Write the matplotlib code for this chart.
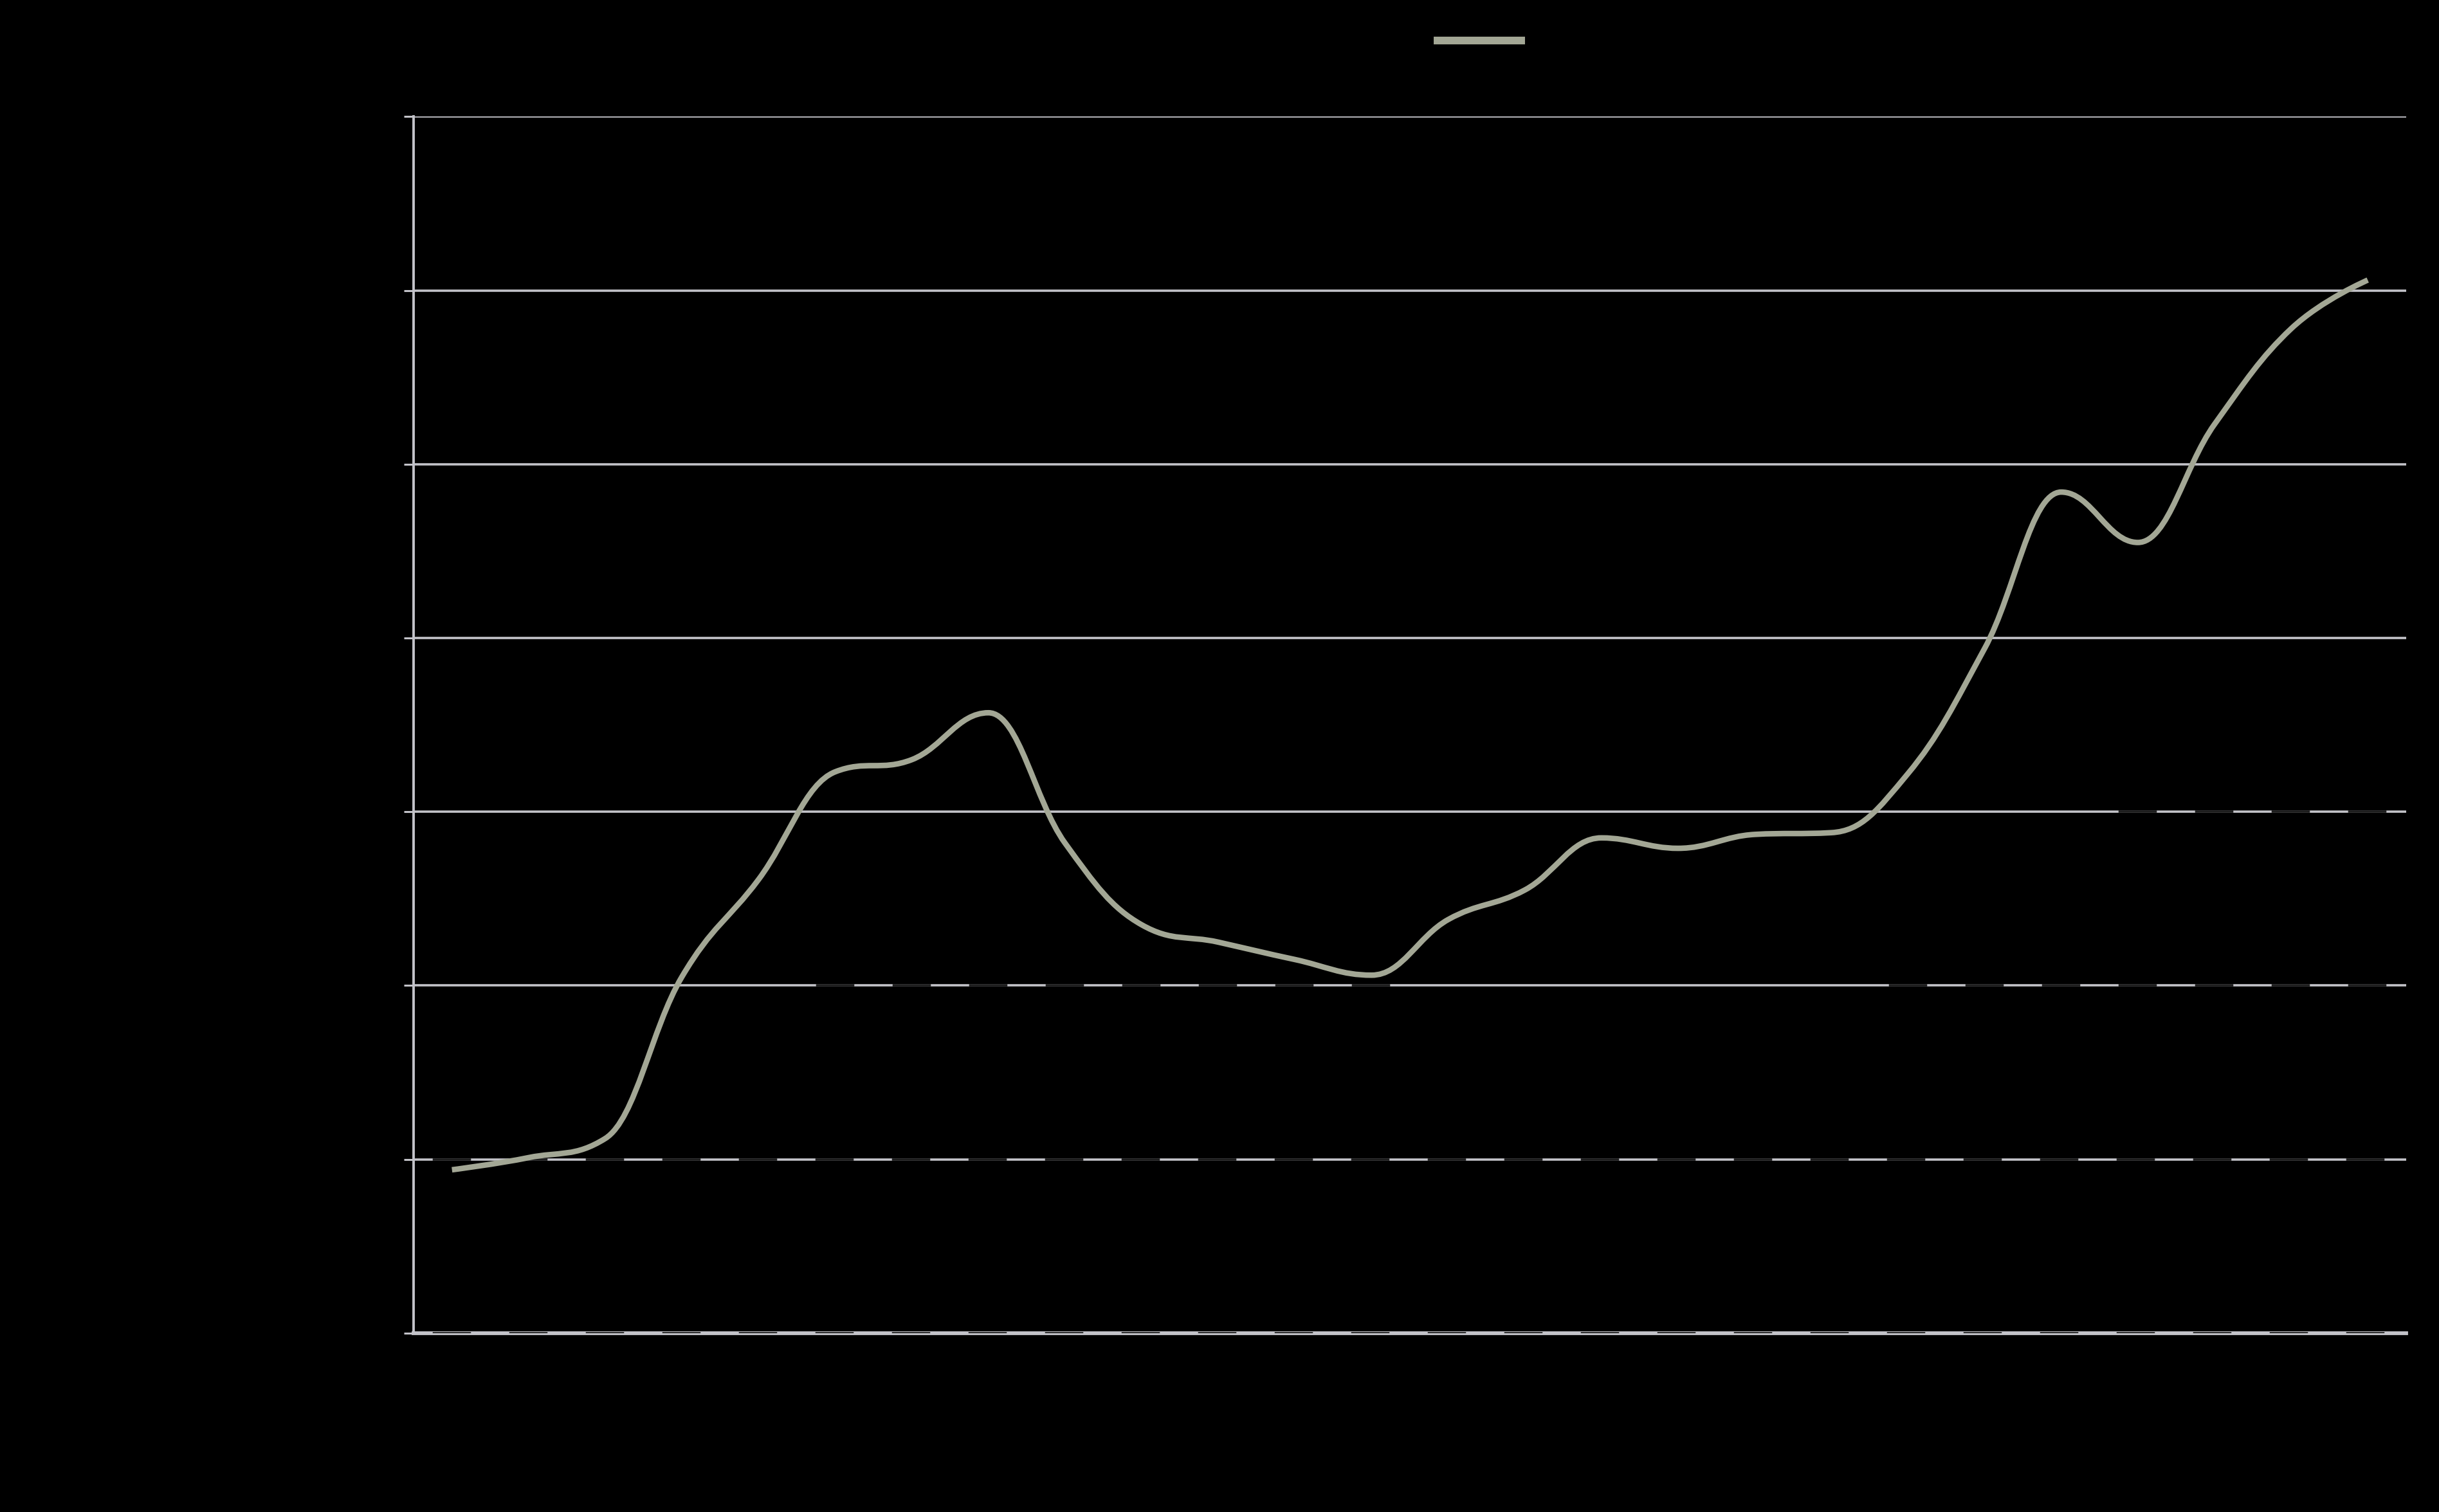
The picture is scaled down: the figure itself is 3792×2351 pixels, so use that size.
import numpy as np
import matplotlib
matplotlib.use("Agg")
import matplotlib.pyplot as plt
from matplotlib.path import Path
from matplotlib.patches import PathPatch
from matplotlib.lines import Line2D

# values (one point per category)
categories = list(range(1, 27))
values = [0.94, 1.01, 1.12, 2.05, 2.61, 3.23, 3.30, 3.57, 2.82, 2.35,
          2.25, 2.15, 2.06, 2.38, 2.55, 2.85, 2.79, 2.87, 2.88, 3.22,
          3.94, 4.84, 4.55, 5.23, 5.78, 6.06]
y_ticks = [0, 1, 2, 3, 4, 5, 6, 7]
series_name = "Series 1"

line_color = "#a3a795"
grid_color = "#c3c3c9"
gap_color = "#1b1b1b"


def spline_path(xs, ys, smoothing=1.5):
    # bezier spline in the style of a charting-library "spline" series
    n = len(xs)
    left = [(xs[i], ys[i]) for i in range(n)]
    right = [(xs[i], ys[i]) for i in range(n)]
    d = smoothing + 1
    for i in range(1, n - 1):
        x, y = xs[i], ys[i]
        lx, ly = xs[i - 1], ys[i - 1]
        nx, ny = xs[i + 1], ys[i + 1]
        lcx, lcy = (smoothing * x + lx) / d, (smoothing * y + ly) / d
        rcx, rcy = (smoothing * x + nx) / d, (smoothing * y + ny) / d
        if rcx != lcx:
            corr = (rcy - lcy) * (rcx - x) / (rcx - lcx) + y - rcy
            lcy += corr
            rcy += corr
        if lcy > ly and lcy > y:
            lcy = max(ly, y)
            rcy = 2 * y - lcy
        elif lcy < ly and lcy < y:
            lcy = min(ly, y)
            rcy = 2 * y - lcy
        if rcy > ny and rcy > y:
            rcy = max(ny, y)
            lcy = 2 * y - rcy
        elif rcy < ny and rcy < y:
            rcy = min(ny, y)
            lcy = 2 * y - rcy
        left[i] = (lcx, lcy)
        right[i] = (rcx, rcy)
    verts = [(xs[0], ys[0])]
    codes = [Path.MOVETO]
    for i in range(1, n):
        verts += [right[i - 1], left[i], (xs[i], ys[i])]
        codes += [Path.CURVE4] * 3
    return Path(verts, codes)


fig = plt.figure(figsize=(37.92, 23.51), dpi=100, facecolor="black")
ax = fig.add_axes([0.1696, 0.1183, 0.8169, 0.8045])
ax.set_facecolor("black")

n = len(categories)
xs = np.arange(n)
ax.set_xlim(-0.5, n - 0.5)
ax.set_ylim(y_ticks[0], y_ticks[-1])

# gridlines
grid_lw = 2.6
for t in y_ticks:
    ax.axhline(t, color=grid_color, lw=grid_lw, zorder=1)
ax.axhline(0, color=grid_color, lw=4.2, zorder=1, clip_on=False)

# darker dash pieces seen on some of the lower gridlines
dash_len = 59.5 / (grid_lw * 100 / 72)
dash_style = (dash_len * 1.5, (dash_len, dash_len))
dash_spans = [(0, 0, n), (1, 0, n), (2, 5, 13), (2, 19, n), (3, 22, n)]
for level, k0, k1 in dash_spans:
    ax.axhline(level, xmin=k0 / n, xmax=k1 / n, color=gap_color, lw=grid_lw,
               linestyle=dash_style, zorder=1.5)

patch = PathPatch(spline_path(xs, values), facecolor="none",
                  edgecolor=line_color, lw=6.2, capstyle="butt", zorder=3)
ax.add_patch(patch)

for s in ["top", "right", "bottom"]:
    ax.spines[s].set_visible(False)
ax.spines["left"].set_color(grid_color)
ax.spines["left"].set_linewidth(2.8)
ax.spines["left"].set_zorder(2)

ax.set_yticks(y_ticks)
ax.set_yticklabels([str(t) for t in y_ticks], color="black", fontsize=26)
ax.tick_params(axis="y", length=11, width=2.2, color=grid_color)
ax.set_xticks([])

handle = Line2D([], [], color=line_color, lw=8.6)
fig.legend([handle], [series_name], loc="center left",
           bbox_to_anchor=(0.5855, 0.972), frameon=False, fontsize=26,
           labelcolor="black", handlelength=3.6, borderaxespad=0,
           handletextpad=0.6)

fig.savefig("out.png", dpi=100, facecolor="black")
